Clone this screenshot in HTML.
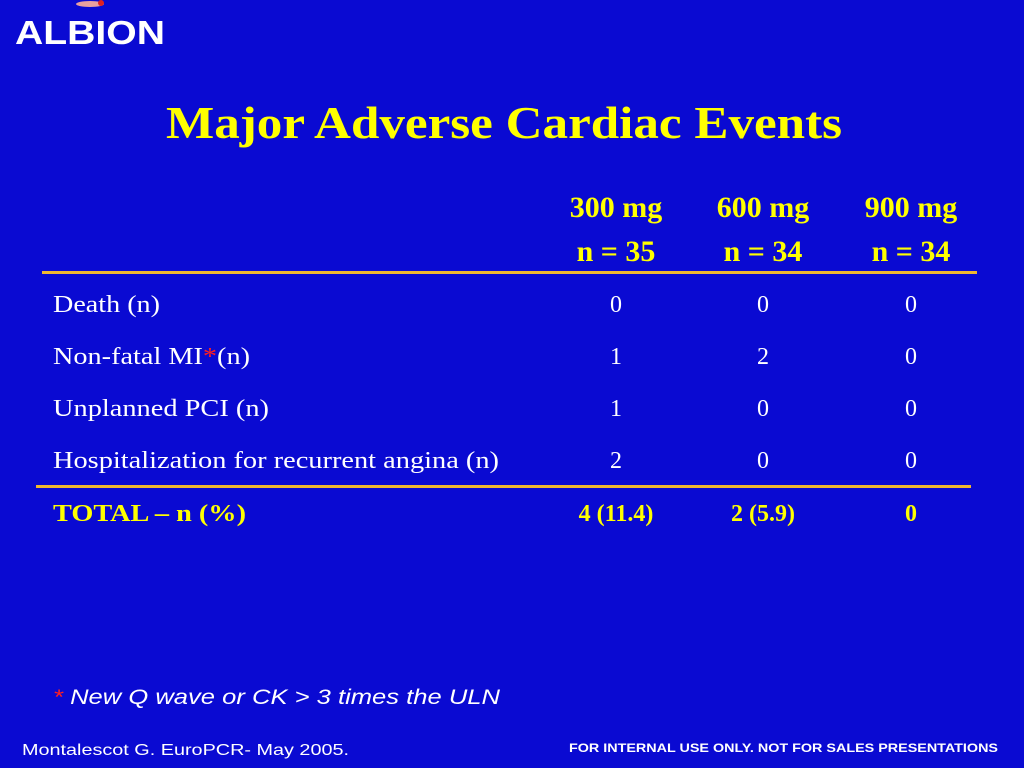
<!DOCTYPE html>
<html><head><meta charset="utf-8"><style>
html,body{margin:0;padding:0;background:#0a0ad2;}
svg{display:block}
.serif{font-family:"Liberation Serif","Times New Roman",serif}
.sans{font-family:"Liberation Sans",Arial,sans-serif}
</style></head><body>
<svg width="1024" height="768" viewBox="0 0 1024 768" xmlns="http://www.w3.org/2000/svg">
<rect width="1024" height="768" fill="#0a0ad2"/>
<g>
<ellipse cx="90" cy="4" rx="14" ry="3" fill="#e8a0a0"/>
<circle cx="101" cy="3" r="3" fill="#e02020"/>
<text class="sans" x="15" y="44" font-weight="bold" font-size="33" fill="#fff" textLength="150" lengthAdjust="spacingAndGlyphs">ALBION</text>
</g>
<text class="serif" x="166" y="138" font-weight="bold" font-size="46" fill="#ffff00" textLength="676" lengthAdjust="spacingAndGlyphs">Major Adverse Cardiac Events</text>
<g class="serif" font-weight="bold" font-size="30" fill="#ffff00" text-anchor="middle">
<text x="616" y="217">300 mg</text>
<text x="763" y="217">600 mg</text>
<text x="911" y="217">900 mg</text>
<text x="616" y="261">n = 35</text>
<text x="763" y="261">n = 34</text>
<text x="911" y="261">n = 34</text>
</g>
<rect x="42" y="271" width="935" height="3" fill="#f0b830"/>
<rect x="36" y="485" width="935" height="3" fill="#f0b830"/>
<g class="serif" font-size="24" fill="#fff">
<text x="53" y="312" textLength="107" lengthAdjust="spacingAndGlyphs">Death (n)</text>
<text x="53" y="364" textLength="197" lengthAdjust="spacingAndGlyphs">Non-fatal MI<tspan fill="#ff2020">*</tspan>(n)</text>
<text x="53" y="416" textLength="216" lengthAdjust="spacingAndGlyphs">Unplanned PCI (n)</text>
<text x="53" y="468" textLength="446" lengthAdjust="spacingAndGlyphs">Hospitalization for recurrent angina (n)</text>
<g text-anchor="middle">
<text x="616" y="312">0</text><text x="763" y="312">0</text><text x="911" y="312">0</text>
<text x="616" y="364">1</text><text x="763" y="364">2</text><text x="911" y="364">0</text>
<text x="616" y="416">1</text><text x="763" y="416">0</text><text x="911" y="416">0</text>
<text x="616" y="468">2</text><text x="763" y="468">0</text><text x="911" y="468">0</text>
</g>
</g>
<g class="serif" font-weight="bold" font-size="24" fill="#ffff00">
<text x="53" y="521" textLength="193" lengthAdjust="spacingAndGlyphs">TOTAL – n (%)</text>
<text x="616" y="521" text-anchor="middle">4 (11.4)</text>
<text x="763" y="521" text-anchor="middle">2 (5.9)</text>
<text x="911" y="521" text-anchor="middle">0</text>
</g>
<text class="sans" x="53" y="704" font-style="italic" font-size="21" fill="#fff" textLength="447" lengthAdjust="spacingAndGlyphs"><tspan fill="#ff2020">*</tspan> New Q wave or CK &gt; 3 times the ULN</text>
<text class="sans" x="22" y="755" font-size="16" fill="#fff" textLength="327" lengthAdjust="spacingAndGlyphs">Montalescot G. EuroPCR- May 2005.</text>
<text class="sans" x="569" y="752" font-weight="bold" font-size="12" fill="#fff" textLength="429" lengthAdjust="spacingAndGlyphs">FOR INTERNAL USE ONLY. NOT FOR SALES PRESENTATIONS</text>
</svg>
</body></html>
